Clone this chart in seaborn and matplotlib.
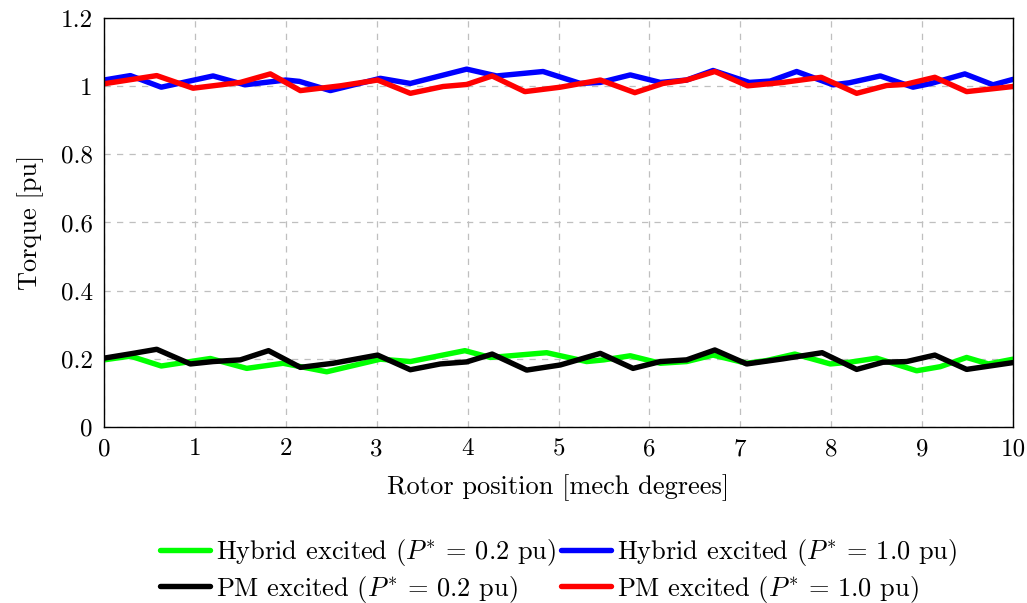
import matplotlib
matplotlib.use("Agg")
import matplotlib.pyplot as plt
import seaborn as sns
import pandas as pd

# ---- data ----
hyb02_x = [0, 0.29, 0.63, 1.17, 1.57, 1.97, 2.45, 3.04, 3.37, 3.97, 4.25, 4.87, 5.31, 5.5, 5.79,
           6.12, 6.41, 6.70, 7.07, 7.29, 7.60, 7.99, 8.2, 8.5, 8.94, 9.2, 9.49, 9.73, 10]
hyb02_y = [0.197, 0.208, 0.179, 0.201, 0.172, 0.187, 0.162, 0.199, 0.192, 0.224, 0.204, 0.218, 0.192,
           0.197, 0.209, 0.187, 0.192, 0.211, 0.187, 0.195, 0.214, 0.185, 0.190, 0.202, 0.165, 0.177,
           0.204, 0.185, 0.199]

hyb10_x = [0, 0.29, 0.63, 1.2, 1.55, 2.0, 2.15, 2.49, 3.04, 3.37, 3.99, 4.32, 4.83, 5.24, 5.46, 5.79,
           6.12, 6.41, 6.70, 7.1, 7.33, 7.62, 8.02, 8.2, 8.54, 8.9, 9.1, 9.47, 9.78, 10]
hyb10_y = [1.018, 1.031, 0.997, 1.030, 1.004, 1.018, 1.014, 0.987, 1.023, 1.008, 1.050, 1.030, 1.043,
           1.008, 1.011, 1.033, 1.011, 1.018, 1.046, 1.011, 1.015, 1.043, 1.004, 1.010, 1.030, 0.997,
           1.008, 1.036, 1.004, 1.020]

pm02_x = [0, 0.32, 0.58, 0.95, 1.2, 1.5, 1.81, 2.16, 2.52, 3.01, 3.37, 3.70, 3.99, 4.27, 4.65, 5.02,
          5.46, 5.82, 6.12, 6.41, 6.72, 7.07, 7.47, 7.9, 8.28, 8.57, 8.83, 9.14, 9.49, 10]
pm02_y = [0.202, 0.216, 0.228, 0.185, 0.192, 0.197, 0.224, 0.175, 0.187, 0.211, 0.168, 0.185, 0.191,
          0.214, 0.167, 0.182, 0.216, 0.172, 0.192, 0.197, 0.226, 0.185, 0.200, 0.218, 0.169, 0.190,
          0.192, 0.211, 0.169, 0.189]

pm10_x = [0, 0.58, 0.98, 1.5, 1.83, 2.16, 2.6, 3.01, 3.37, 3.73, 3.99, 4.27, 4.63, 5.02, 5.46, 5.84,
          6.15, 6.41, 6.72, 7.08, 7.47, 7.89, 8.28, 8.61, 8.81, 9.14, 9.49, 10]
pm10_y = [1.007, 1.031, 0.994, 1.011, 1.036, 0.987, 1.001, 1.018, 0.979, 0.999, 1.005, 1.030, 0.984,
          0.997, 1.018, 0.981, 1.008, 1.018, 1.043, 1.001, 1.011, 1.026, 0.979, 1.002, 1.005, 1.026,
          0.984, 0.999]

labels = [r"Hybrid excited ($P^{*}$ = 0.2 pu)", r"Hybrid excited ($P^{*}$ = 1.0 pu)",
          r"PM excited ($P^{*}$ = 0.2 pu)", r"PM excited ($P^{*}$ = 1.0 pu)"]
colors = ["#00ff00", "#0000ff", "#000000", "#ff0000"]
x_ticks = [0, 1, 2, 3, 4, 5, 6, 7, 8, 9, 10]
y_ticks = [0, 0.2, 0.4, 0.6, 0.8, 1.0, 1.2]
y_ticklabels = ["0", "0.2", "0.4", "0.6", "0.8", "1", "1.2"]

sns.set_theme(style="white")
plt.rcParams["font.family"] = ["serif"]
plt.rcParams["font.serif"] = ["cmr10", "DejaVu Serif"]
plt.rcParams["mathtext.fontset"] = "cm"
plt.rcParams["axes.formatter.use_mathtext"] = True
for k in ["text.color", "axes.labelcolor", "xtick.color", "ytick.color"]:
    plt.rcParams[k] = "black"

FS_TICK = 18
FS = 19

fig = plt.figure(figsize=(10.27, 6.03), dpi=100)
ax = fig.add_axes([104 / 1027, 1 - 427 / 603, (1013 - 104) / 1027, (427 - 18) / 603])

series = [(hyb02_x, hyb02_y), (hyb10_x, hyb10_y), (pm02_x, pm02_y), (pm10_x, pm10_y)]
for (xs, ys), lab, col in zip(series, labels, colors):
    df = pd.DataFrame({"x": xs, "y": ys})
    sns.lineplot(data=df, x="x", y="y", ax=ax, color=col, lw=3.9, label=lab, sort=False,
                 solid_joinstyle="round", solid_capstyle="round")

ax.set_xlim(0, 10)
ax.set_ylim(0, 1.2)
ax.set_xticks(x_ticks)
ax.set_xticklabels([str(t) for t in x_ticks])
ax.set_yticks(y_ticks)
ax.set_yticklabels(y_ticklabels)
ax.grid(True, color="#bfbfbf", linestyle=(0, (5, 5)), linewidth=0.9)
ax.tick_params(length=0, labelsize=FS_TICK, colors="black", pad=8)
for s in ax.spines.values():
    s.set_color("black")
    s.set_linewidth(1.0)
ax.set_xlabel("Rotor position [mech degrees]", fontsize=FS, labelpad=10)
ax.set_ylabel("Torque [pu]", fontsize=FS, labelpad=12)

handles, labs = ax.get_legend_handles_labels()
order = [0, 2, 1, 3]
ax.legend([handles[i] for i in order], [labs[i] for i in order], loc="upper center",
          bbox_to_anchor=(0.5, -0.217), ncol=2, frameon=False, fontsize=FS,
          handlelength=1.9, handletextpad=0.2, columnspacing=0.2, labelspacing=0.22,
          borderpad=0.3)

fig.savefig("out.png", dpi=100)
